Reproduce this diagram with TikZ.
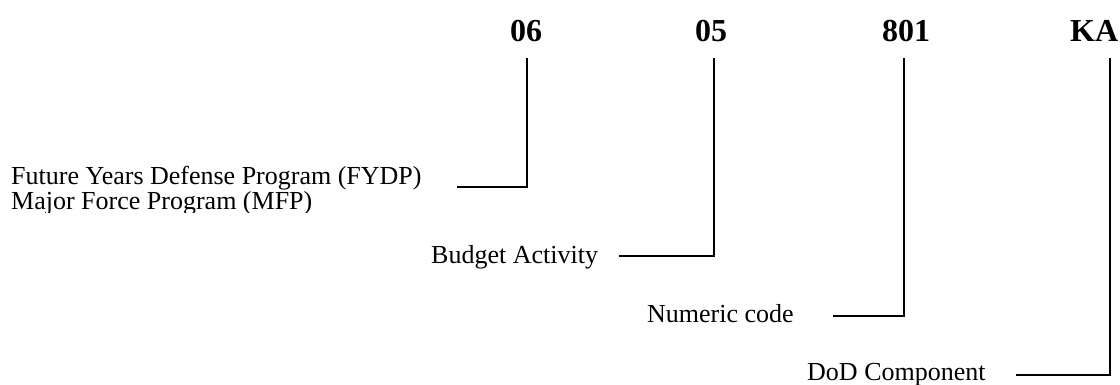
\documentclass[tikz,border=0pt]{standalone}
\usepackage{fontspec}
\setmainfont{Liberation Serif}
\begin{document}
\begin{tikzpicture}[x=1pt,y=-1pt,
  lbl/.style={inner sep=0pt,anchor=base west,font=\fontsize{26}{30}\selectfont},
  code/.style={inner sep=0pt,anchor=base west,font=\fontsize{32}{36}\selectfont\bfseries},
  conn/.style={line width=1.6pt,line join=miter}]
\useasboundingbox (0,0) rectangle (1120,385);
% codes
\node[code] (c06) at (510,42) {06};
\node[code] (c05) at (695,42) {05};
\node[code] (c801) at (882,42) {801};
\node[code] (cKA) at (1070,42) {KA};
% labels
\node[lbl] (fydp) at (11,185) {Future Years Defense Program (FYDP)};
\begin{scope}
\clip (0,190) rectangle (500,213);
\node[lbl] (mfp) at (11,209) {Major Force Program (MFP)};
\end{scope}
\node[lbl] (ba) at (431,263) {Budget Activity};
\node[lbl] (nc) at (647,322) {Numeric code};
\node[lbl] (dod) at (807,380) {DoD Component};
% connector ends
\coordinate (t06) at (527,58);
\coordinate (e06) at (457,187);
\coordinate (t05) at (714,58);
\coordinate (e05) at (619,256);
\coordinate (t801) at (904,58);
\coordinate (e801) at (833,316);
\coordinate (tKA) at (1110,58);
\coordinate (eKA) at (1016,375);
\draw[conn] (t06) |- (e06);
\draw[conn] (t05) |- (e05);
\draw[conn] (t801) |- (e801);
\draw[conn] (tKA) |- (eKA);
\end{tikzpicture}
\end{document}
